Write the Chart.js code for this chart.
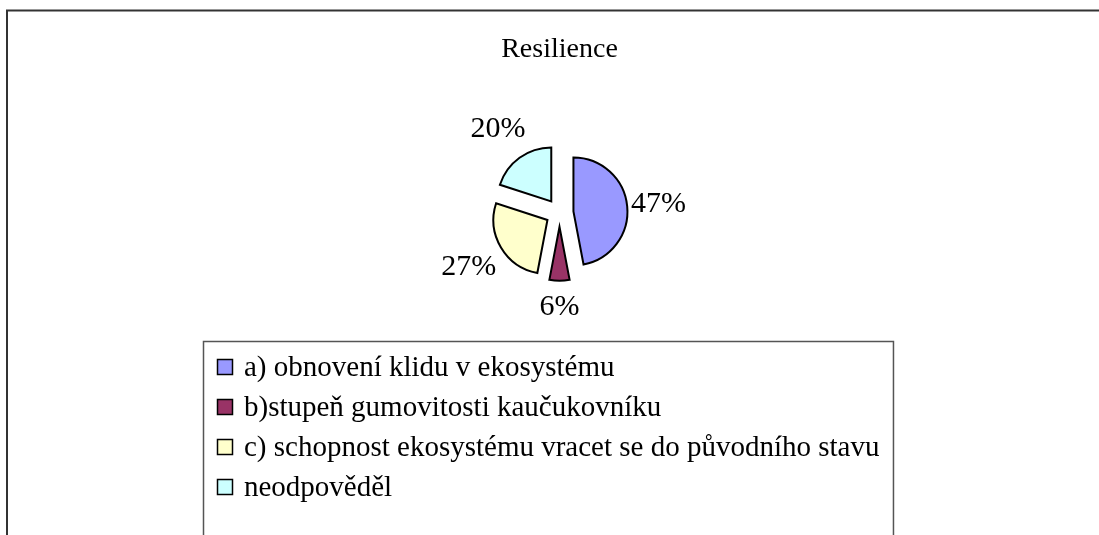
<!DOCTYPE html>
<html><head><meta charset="utf-8">
<script src="https://cdn.jsdelivr.net/npm/chart.js@4/dist/chart.umd.min.js"></script>
<style>html,body{margin:0;padding:0;background:#fff;overflow:hidden}
#wrap{position:relative;width:1099px;height:535px}</style>
</head><body><div id="wrap"><canvas id="c" width="1099" height="535"></canvas></div>
<script>
const chartTitle = 'Resilience';
const categories = [
  'a) obnovení klidu v ekosystému',
  'b)stupeň gumovitosti kaučukovníku',
  'c) schopnost ekosystému vracet se do původního stavu',
  'neodpověděl'
];
const percentValues = [47, 6, 27, 20];
const sliceColors = ['#9999ff', '#993366', '#ffffcc', '#ccffff'];

const SERIF = '"Liberation Serif", "Times New Roman", serif';
const EXPLODE = 14;

const framePlugin = {
  id: 'frame',
  beforeDraw(chart) {
    const ctx = chart.ctx;
    ctx.save();
    ctx.fillStyle = '#fff';
    ctx.fillRect(0, 0, chart.width, chart.height);
    ctx.strokeStyle = '#333';
    ctx.lineWidth = 2;
    ctx.strokeRect(7, 10.5, 3000, 3000);
    ctx.restore();
  }
};

const explodePlugin = {
  id: 'explode',
  afterDatasetUpdate(chart, args) {
    args.meta.data.forEach(arc => {
      const mid = (arc.startAngle + arc.endAngle) / 2;
      arc.x += Math.cos(mid) * EXPLODE;
      arc.y += Math.sin(mid) * EXPLODE;
    });
  }
};

const labelPlugin = {
  id: 'pctLabels',
  afterDatasetsDraw(chart) {
    const ctx = chart.ctx;
    const meta = chart.getDatasetMeta(0);
    const data = chart.data.datasets[0].data;
    const total = data.reduce((a, b) => a + b, 0);
    const ca = chart.chartArea;
    const cx = (ca.left + ca.right) / 2, cy = (ca.top + ca.bottom) / 2;
    ctx.save();
    ctx.font = '30px ' + SERIF;
    ctx.fillStyle = '#000';
    ctx.textAlign = 'center';
    ctx.textBaseline = 'middle';
    meta.data.forEach((arc, i) => {
      const txt = Math.round(data[i] / total * 100) + '%';
      const mid = (arc.startAngle + arc.endAngle) / 2;
      const dx = Math.cos(mid), dy = Math.sin(mid);
      const hw = ctx.measureText(txt).width / 2, hh = 23;
      const dist = 70 + Math.abs(dx) * hw + Math.abs(dy) * hh;
      ctx.fillText(txt, cx + dx * dist, cy + dy * dist + 1);
    });
    ctx.restore();
  }
};

const legendPlugin = {
  id: 'legendBox',
  afterDraw(chart) {
    const ctx = chart.ctx;
    const ds = chart.data.datasets[0];
    ctx.save();
    ctx.font = '29px ' + SERIF;
    const left = 203.5, top = 341.5, textX = 244;
    const maxW = Math.max(...chart.data.labels.map(t => ctx.measureText(t).width));
    const right = textX + maxW + 14;
    ctx.strokeStyle = '#555';
    ctx.lineWidth = 1.5;
    ctx.strokeRect(left, top, right - left, 400);
    chart.data.labels.forEach((t, i) => {
      const by = 359.5 + 40 * i;
      ctx.fillStyle = ds.backgroundColor[i];
      ctx.fillRect(217.5, by, 15, 15);
      ctx.strokeStyle = '#000';
      ctx.lineWidth = 1.5;
      ctx.strokeRect(217.5, by, 15, 15);
      ctx.fillStyle = '#000';
      ctx.textBaseline = 'alphabetic';
      ctx.textAlign = 'left';
      ctx.fillText(t, textX, 376 + 40 * i);
    });
    ctx.restore();
  }
};

new Chart(document.getElementById('c'), {
  type: 'pie',
  data: {
    labels: categories,
    datasets: [{
      data: percentValues,
      backgroundColor: sliceColors,
      borderColor: '#000',
      borderWidth: 2,
      borderJoinStyle: 'miter',
      radius: 54
    }]
  },
  options: {
    responsive: false,
    animation: false,
    devicePixelRatio: 1,
    events: [],
    layout: { padding: { left: 300, right: 280, top: 0, bottom: 186 } },
    plugins: {
      legend: { display: false },
      tooltip: { enabled: false },
      title: {
        display: true,
        text: chartTitle,
        color: '#000',
        font: { family: SERIF, size: 28, weight: 'normal' },
        padding: { top: 33, bottom: 10 }
      }
    }
  },
  plugins: [framePlugin, explodePlugin, labelPlugin, legendPlugin]
});
</script></body></html>
